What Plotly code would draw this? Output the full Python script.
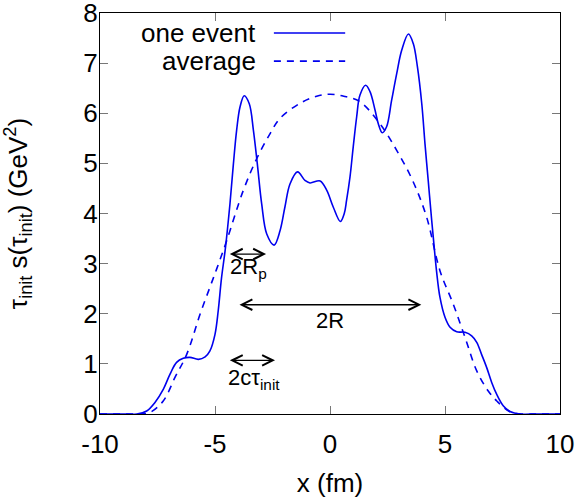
import plotly.graph_objects as go

# one event (solid)
event_x = [-10, -9.0, -8.4, -7.97, -7.61, -7.25, -6.96, -6.67, -6.38, -6.09, -5.72, -5.43,
           -5.22, -5.0, -4.86, -4.72, -4.55, -4.35, -4.2, -4.06, -3.91, -3.73, -3.51, -3.33,
           -3.16, -2.97, -2.75, -2.43, -2.17, -1.96, -1.74, -1.41, -1.09, -0.87, -0.43,
           -0.14, 0.14, 0.45, 0.62, 0.72, 0.87, 1.01, 1.16, 1.3, 1.55, 1.74, 1.96, 2.1,
           2.27, 2.46, 2.68, 2.9, 3.12, 3.41, 3.62, 3.8, 3.99, 4.13, 4.27, 4.42, 4.49,
           4.63, 4.78, 5.0, 5.22, 5.51, 5.87, 6.16, 6.38, 6.59, 6.81, 7.03, 7.25, 7.54,
           7.83, 8.26, 9.0, 10]
event_y = [0, 0, 0, 0.06, 0.23, 0.49, 0.79, 1.03, 1.11, 1.13, 1.09, 1.14,
           1.26, 1.59, 2.06, 2.7, 3.3, 4.19, 4.99, 5.66, 6.13, 6.35, 6.19, 5.66,
           4.99, 4.19, 3.59, 3.37, 3.66, 4.13, 4.59, 4.83, 4.66, 4.61, 4.65,
           4.46, 4.13, 3.84, 4.0, 4.26, 4.73, 5.33, 5.93, 6.36, 6.56, 6.43, 6.06, 5.79,
           5.61, 5.73, 6.26, 6.79, 7.26, 7.58, 7.39, 6.93, 6.19, 5.39, 4.66, 3.87, 3.53,
           2.86, 2.33, 1.93, 1.73, 1.64, 1.63, 1.56, 1.43, 1.19, 0.93, 0.63, 0.39, 0.16,
           0.05, 0, 0, 0]

# average (dashed)
avg_x = [-10, -9.0, -8.3, -7.83, -7.25, -6.74, -6.23, -5.65, -5.22, -4.93, -4.49, -3.77,
         -3.19, -2.61, -2.17, -1.3, -0.58, 0, 0.6, 1.3, 2.17, 2.9, 3.6, 4.2, 4.78, 5.36,
         5.87, 6.38, 6.88, 7.25, 7.8, 8.3, 9.0, 10]
avg_y = [0, 0, 0, 0.03, 0.26, 0.73, 1.19, 1.99, 2.53, 2.89, 3.46, 4.46,
         5.09, 5.59, 5.9, 6.2, 6.34, 6.38, 6.34, 6.23, 5.79, 5.26, 4.65, 3.93, 2.86, 2.19,
         1.53, 0.86, 0.46, 0.26, 0.05, 0, 0, 0]

x_ticks = [-10, -5, 0, 5, 10]
x_ticklabels = ["-10", "-5", "0", "5", "10"]
y_ticks = [0, 1, 2, 3, 4, 5, 6, 7, 8]

# scale arrows: (x0, x1, y, label, label_x, label_y)
arrows = [
    (-4.42, -2.78, 3.19, "2R<sub>p</sub>", -3.55, 2.92),
    (-4.0, 3.97, 2.18, "2R", 0.0, 1.87),
    (-4.42, -2.39, 1.07, "2cτ<sub>init</sub>", -3.3, 0.70),
]

FONT = "Liberation Sans, Arial, Helvetica, sans-serif"
BLUE = "#0000ee"

fig = go.Figure()
fig.add_trace(go.Scatter(x=event_x, y=event_y, mode="lines", line_shape="spline",
                         line=dict(color=BLUE, width=1.6), name="one event"))
fig.add_trace(go.Scatter(x=avg_x, y=avg_y, mode="lines", line_shape="spline",
                         line=dict(color=BLUE, width=1.6, dash="7px,6px"), name="average"))

for x0, x1, y, label, lx, ly in arrows:
    fig.add_annotation(x=x1, y=y, ax=x0, ay=y, xref="x", yref="y", axref="x", ayref="y",
                       text="", showarrow=True, arrowhead=5, arrowside="end+start",
                       arrowsize=1.6, arrowwidth=1.3, arrowcolor="black")
    fig.add_annotation(x=lx, y=ly, text=label, showarrow=False,
                       font=dict(size=22, color="black", family=FONT))

# legend drawn gnuplot-style: text right-aligned, sample on the right
legend = [("one event", 0.95, "solid"), ("average", 0.88, "7px,6px")]
for name, ypos, dash in legend:
    fig.add_annotation(x=0.343, y=ypos, xref="paper", yref="paper", text=name,
                       showarrow=False, xanchor="right", yanchor="middle",
                       font=dict(size=26, color="black", family=FONT))
    fig.add_shape(type="line", xref="paper", yref="paper", x0=0.378, x1=0.533,
                  y0=ypos, y1=ypos, line=dict(color=BLUE, width=1.6, dash=dash))

axis_common = dict(
    showgrid=False, zeroline=False, showline=True, linecolor="black", linewidth=1.2,
    mirror="ticks", ticks="inside", ticklen=8, tickcolor="#777777", tickwidth=1,
    tickfont=dict(size=26, color="black", family=FONT), automargin=False,
    ticklabeloverflow="allow",
)

fig.update_xaxes(range=[-10, 10], tickvals=x_ticks, ticktext=x_ticklabels,
                 ticklabelstandoff=7,
                 title=dict(text="x (fm)", font=dict(size=26, family=FONT, color="black"),
                            standoff=15),
                 **axis_common)
fig.update_yaxes(range=[0, 8], tickvals=y_ticks, ticklabelstandoff=-4,
                 title=dict(text="τ<sub>init</sub> s(τ<sub>init</sub>) (GeV<sup>2</sup>)",
                            font=dict(size=26, family=FONT, color="black"), standoff=52),
                 **axis_common)

fig.update_layout(
    width=581, height=502,
    margin=dict(l=100, r=21, t=13, b=88),
    plot_bgcolor="white", paper_bgcolor="white",
    showlegend=False,
    font=dict(family=FONT, color="black"),
)

# drop the default page margin so the figure sits at the window origin
fig.write_html("out.html", config={"displayModeBar": False},
               post_script="document.body.style.margin = '0';")
